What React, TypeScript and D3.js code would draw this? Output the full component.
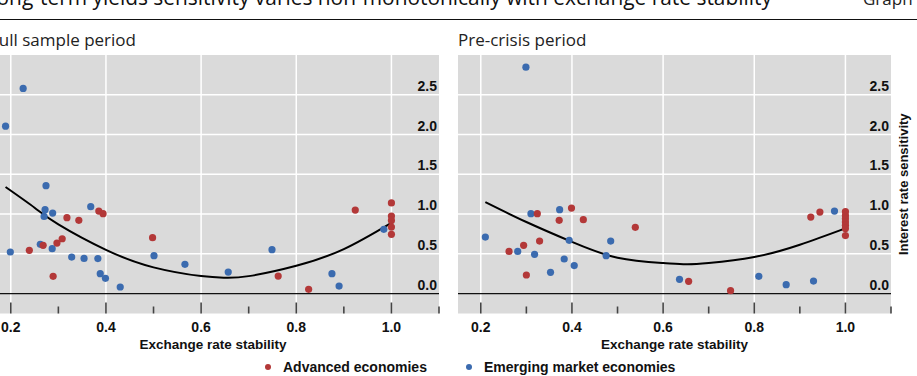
import React from "react";
import * as d3 from "d3";

type Pt = [number, number];

// x ticks every 0.1, labelled every 0.2
const xTicks = [0.2, 0.3, 0.4, 0.5, 0.6, 0.7, 0.8, 0.9, 1.0, 1.1];
const xLabels = [0.2, 0.4, 0.6, 0.8, 1.0];
const yLabels = [0, 0.5, 1.0, 1.5, 2.0, 2.5];

// full sample: [exchange rate stability, interest rate sensitivity]
const fullAdvanced: Pt[] = [
  [0.239, 0.544], [0.268, 0.607], [0.289, 0.217], [0.297, 0.636], [0.308, 0.69],
  [0.318, 0.955], [0.343, 0.921], [0.385, 1.038], [0.394, 1.005], [0.498, 0.703],
  [0.762, 0.221], [0.826, 0.054], [0.924, 1.05], [1.0, 1.14], [1.0, 0.975],
  [1.0, 0.92], [1.0, 0.837], [1.0, 0.745],
];
const fullEmerging: Pt[] = [
  [0.189, 2.105], [0.226, 2.58], [0.199, 0.523], [0.262, 0.62], [0.272, 1.055],
  [0.27, 0.971], [0.274, 1.357], [0.288, 1.013], [0.287, 0.565], [0.328, 0.46],
  [0.354, 0.443], [0.368, 1.093], [0.383, 0.44], [0.388, 0.251], [0.399, 0.192],
  [0.43, 0.083], [0.501, 0.477], [0.566, 0.368], [0.657, 0.271], [0.749, 0.553],
  [0.875, 0.251], [0.89, 0.095], [0.984, 0.808],
];
const fullFit: Pt[] = [
  [0.189, 1.34], [0.25, 1.08], [0.3, 0.87], [0.4, 0.55], [0.5, 0.33], [0.6, 0.22],
  [0.65, 0.2], [0.7, 0.22], [0.8, 0.35], [0.9, 0.56], [1.0, 0.89],
];

// pre-crisis period
const preAdvanced: Pt[] = [
  [0.262, 0.531], [0.294, 0.607], [0.3, 0.234], [0.324, 1.005], [0.329, 0.661],
  [0.372, 0.921], [0.399, 1.075], [0.425, 0.93], [0.539, 0.833], [0.656, 0.155],
  [0.748, 0.037], [0.924, 0.962], [0.944, 1.025], [1.0, 1.03], [1.0, 0.98],
  [1.0, 0.94], [1.0, 0.9], [1.0, 0.86], [1.0, 0.82], [1.0, 0.73],
];
const preEmerging: Pt[] = [
  [0.21, 0.711], [0.281, 0.531], [0.299, 2.847], [0.31, 1.005], [0.318, 0.494],
  [0.353, 0.268], [0.373, 1.055], [0.383, 0.435], [0.394, 0.67], [0.405, 0.352],
  [0.475, 0.477], [0.485, 0.661], [0.636, 0.18], [0.81, 0.217], [0.87, 0.113],
  [0.93, 0.158], [0.976, 1.038],
];
const preFit: Pt[] = [
  [0.21, 1.15], [0.3, 0.9], [0.4, 0.65], [0.5, 0.45], [0.6, 0.385], [0.65, 0.37],
  [0.7, 0.385], [0.8, 0.46], [0.9, 0.615], [1.0, 0.82],
];

const RED = "#b33838";
const BLUE = "#3b6baf";
const ARIAL = '"Liberation Sans", Arial, sans-serif';
const SEGOE = '"Open Sans", "Noto Sans", sans-serif';
const TOP = 55;
const BOTTOM = 313.5;

const drawPanel = (svg, { left, right, title, titleX, adv, eme, fit, yTitle }) => {
  const g = svg.append("g");
  const x = d3.scaleLinear([0.15, 1.1], [left, right]);
  const y = d3.scaleLinear([-0.25, 3.0], [BOTTOM, TOP]);

  g.append("rect")
    .attr("x", left).attr("y", TOP)
    .attr("width", right - left).attr("height", BOTTOM - TOP)
    .attr("fill", "#dadada");

  g.selectAll(".vgrid").data(xLabels).enter().append("line")
    .attr("x1", d => x(d)).attr("x2", d => x(d))
    .attr("y1", TOP).attr("y2", BOTTOM)
    .attr("stroke", "#fff").attr("stroke-width", 1.5);

  g.selectAll(".hgrid").data(yLabels.filter(d => d > 0)).enter().append("line")
    .attr("x1", left).attr("x2", right)
    .attr("y1", d => y(d)).attr("y2", d => y(d))
    .attr("stroke", "#fff").attr("stroke-width", 1.5);

  g.append("line")
    .attr("x1", left).attr("x2", right)
    .attr("y1", y(0)).attr("y2", y(0))
    .attr("stroke", "#111").attr("stroke-width", 1.3);

  // tick marks rise from the bottom of the plot area
  g.selectAll(".tick").data(xTicks).enter().append("line")
    .attr("x1", d => x(d)).attr("x2", d => x(d))
    .attr("y1", BOTTOM)
    .attr("y2", (d, i) => BOTTOM - (i % 2 === 0 ? 11 : 7))
    .attr("stroke", "#444").attr("stroke-width", 1.6);

  g.selectAll(".ylab").data(yLabels).enter().append("text")
    .attr("x", right - 2).attr("y", d => y(d) - 4)
    .attr("text-anchor", "end")
    .attr("font-family", ARIAL).attr("font-weight", "bold").attr("font-size", 14)
    .attr("fill", "#111")
    .text(d => d3.format(".1f")(d));

  g.selectAll(".xlab").data(xLabels).enter().append("text")
    .attr("x", d => x(d)).attr("y", 331.5)
    .attr("text-anchor", "middle")
    .attr("font-family", ARIAL).attr("font-weight", "bold").attr("font-size", 14)
    .attr("fill", "#111")
    .text(d => d3.format(".1f")(d));

  g.append("text")
    .attr("x", (left + right) / 2).attr("y", 348.5)
    .attr("text-anchor", "middle")
    .attr("font-family", ARIAL).attr("font-weight", "bold").attr("font-size", 13.5)
    .attr("fill", "#111")
    .text("Exchange rate stability");

  g.append("text")
    .attr("x", titleX).attr("y", 45.5)
    .attr("font-family", SEGOE).attr("font-size", 17)
    .attr("fill", "#222")
    .text(title);

  if (yTitle) {
    g.append("text")
      .attr("transform", `translate(908, ${(TOP + BOTTOM) / 2}) rotate(-90)`)
      .attr("text-anchor", "middle")
      .attr("font-family", ARIAL).attr("font-weight", "bold").attr("font-size", 13)
      .attr("fill", "#111")
      .text(yTitle);
  }

  const line = d3.line<Pt>()
    .x(d => x(d[0])).y(d => y(d[1]))
    .curve(d3.curveNatural);
  g.append("path")
    .attr("d", line(fit))
    .attr("fill", "none").attr("stroke", "#000").attr("stroke-width", 2);

  g.selectAll(".eme").data(eme).enter().append("circle")
    .attr("cx", d => x(d[0])).attr("cy", d => y(d[1])).attr("r", 3.6)
    .attr("fill", BLUE);
  g.selectAll(".adv").data(adv).enter().append("circle")
    .attr("cx", d => x(d[0])).attr("cy", d => y(d[1])).attr("r", 3.6)
    .attr("fill", RED);
};

const App = () => {
  const ref = React.useRef(null);

  React.useEffect(() => {
    const svg = d3.select(ref.current);
    svg.selectAll("*").remove();

    svg.append("text")
      .attr("x", 772).attr("y", 5)
      .attr("text-anchor", "end")
      .attr("font-family", SEGOE).attr("font-size", 20.9)
      .attr("fill", "#111")
      .text("Long-term yields sensitivity varies non-monotonically with exchange rate stability");
    svg.append("text")
      .attr("x", 863).attr("y", 5)
      .attr("font-family", SEGOE).attr("font-size", 17)
      .attr("fill", "#222")
      .text("Graph 3");
    svg.append("line")
      .attr("x1", 0).attr("x2", 917).attr("y1", 19.5).attr("y2", 19.5)
      .attr("stroke", "#111").attr("stroke-width", 1);

    drawPanel(svg, {
      left: -13, right: 439, title: "Full sample period", titleX: -10,
      adv: fullAdvanced, eme: fullEmerging, fit: fullFit, yTitle: null,
    });
    drawPanel(svg, {
      left: 458, right: 891, title: "Pre-crisis period", titleX: 458,
      adv: preAdvanced, eme: preEmerging, fit: preFit, yTitle: "Interest rate sensitivity",
    });

    // legend
    const legend = [
      { label: "Advanced economies", color: RED, x: 268 },
      { label: "Emerging market economies", color: BLUE, x: 469 },
    ];
    const lg = svg.selectAll(".legend").data(legend).enter().append("g");
    lg.append("circle")
      .attr("cx", d => d.x).attr("cy", 367).attr("r", 3)
      .attr("fill", d => d.color);
    lg.append("text")
      .attr("x", d => d.x + 15).attr("y", 372)
      .attr("font-family", ARIAL).attr("font-weight", "bold").attr("font-size", 14)
      .attr("fill", "#111")
      .text(d => d.label);
  }, []);

  return (
    <svg
      ref={ref}
      width={917}
      height={376}
      style={{ position: "absolute", left: 0, top: 0, background: "#fff" }}
    />
  );
};

export default App;
